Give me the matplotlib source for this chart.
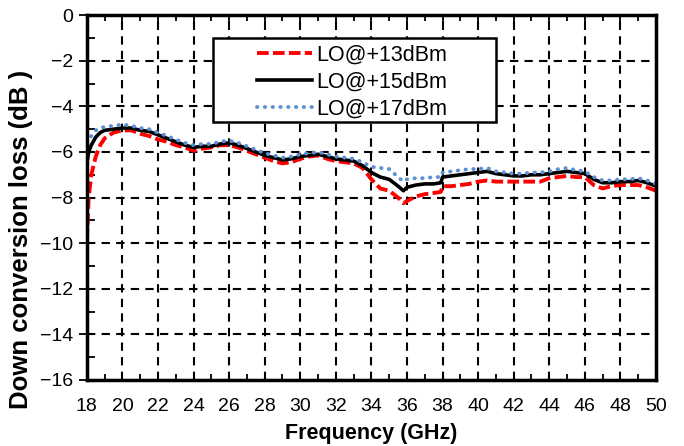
import numpy as np
import matplotlib
matplotlib.use("Agg")
import matplotlib.pyplot as plt
from matplotlib.ticker import MultipleLocator
from matplotlib.patches import Rectangle

# -------------------------------------------
# data (GHz, dB)
# -------------------------------------------
freq = [18.0, 18.1, 18.25, 18.5, 18.75, 19.0, 19.5, 20.0, 20.5, 21.0,
        21.5, 22.0, 22.5, 23.0, 23.5, 24.0, 24.5, 25.0, 25.5, 26.0,
        26.5, 27.0, 27.5, 28.0, 28.5, 29.0, 29.5, 30.0, 30.5, 31.0,
        31.5, 32.0, 32.5, 33.0, 33.5, 34.0, 34.5, 35.0, 35.5, 35.8,
        36.0, 36.5, 37.0, 37.5, 37.9, 38.0, 38.5, 39.0, 39.5, 40.0,
        40.5, 41.0, 41.5, 42.0, 42.5, 43.0, 43.5, 44.0, 44.5, 45.0,
        45.5, 46.0, 46.5, 47.0, 47.5, 48.0, 48.5, 49.0, 49.5, 50.0]

loss_13dbm = [-9.9, -8.0, -7.0, -6.2, -5.7, -5.4, -5.15, -5.05, -5.05, -5.2,
              -5.3, -5.45, -5.55, -5.7, -5.8, -5.95, -5.85, -5.8, -5.7, -5.7,
              -5.8, -5.95, -6.1, -6.25, -6.4, -6.5, -6.45, -6.3, -6.2, -6.15,
              -6.3, -6.4, -6.45, -6.5, -6.7, -7.2, -7.6, -7.7, -8.0, -8.25,
              -8.15, -7.95, -7.85, -7.8, -7.75, -7.5, -7.5, -7.45, -7.4, -7.3,
              -7.25, -7.3, -7.3, -7.3, -7.3, -7.3, -7.3, -7.15, -7.1, -7.05,
              -7.1, -7.1, -7.45, -7.6, -7.5, -7.45, -7.45, -7.45, -7.55, -7.7]

loss_15dbm = [-6.5, -6.0, -5.7, -5.35, -5.15, -5.05, -5.0, -4.95, -4.95, -5.05,
              -5.1, -5.25, -5.4, -5.55, -5.7, -5.8, -5.75, -5.75, -5.65, -5.6,
              -5.7, -5.85, -6.0, -6.15, -6.25, -6.35, -6.3, -6.2, -6.15, -6.1,
              -6.2, -6.3, -6.35, -6.4, -6.6, -6.9, -7.1, -7.2, -7.5, -7.7,
              -7.55, -7.45, -7.4, -7.4, -7.35, -7.1, -7.05, -7.0, -6.95, -6.9,
              -6.85, -6.95, -7.0, -7.05, -7.05, -7.0, -7.0, -6.95, -6.9, -6.85,
              -6.9, -6.95, -7.2, -7.35, -7.35, -7.3, -7.3, -7.25, -7.35, -7.5]

loss_17dbm = [-5.6, -5.45, -5.3, -5.05, -4.95, -4.9, -4.85, -4.8, -4.85, -4.95,
              -5.0, -5.15, -5.3, -5.45, -5.6, -5.7, -5.65, -5.65, -5.55, -5.5,
              -5.6, -5.75, -5.9, -6.05, -6.15, -6.25, -6.2, -6.1, -6.05, -6.0,
              -6.1, -6.2, -6.25, -6.3, -6.45, -6.65, -6.7, -6.75, -7.1, -7.3,
              -7.2, -7.15, -7.15, -7.1, -7.1, -6.9, -6.85, -6.8, -6.75, -6.75,
              -6.7, -6.85, -6.9, -6.95, -6.95, -6.9, -6.9, -6.85, -6.75, -6.7,
              -6.8, -6.85, -7.1, -7.25, -7.25, -7.2, -7.2, -7.15, -7.25, -7.4]

labels = ["LO@+13dBm", "LO@+15dBm", "LO@+17dBm"]

plt.rcParams["font.family"] = ["Liberation Sans", "DejaVu Sans"]

fig = plt.figure(figsize=(6.84, 4.46), dpi=100)
ax = fig.add_axes([0.127, 0.148, 0.832, 0.818])

ax.plot(freq, loss_13dbm, color="#ff0000", lw=2.8, ls=(0, (3, 1.1)), label=labels[0])
ax.plot(freq, loss_15dbm, color="black", lw=2.6, label=labels[1])
ax.plot(freq, loss_17dbm, color="#5b8fd6", lw=2.8, ls=(0, (0.1, 1.9)),
        dash_capstyle="round", label=labels[2])

ax.set_xlim(18, 50)
ax.set_ylim(-16, 0)
ax.xaxis.set_major_locator(MultipleLocator(2))
ax.xaxis.set_minor_locator(MultipleLocator(1))
ax.yaxis.set_major_locator(MultipleLocator(2))
ax.yaxis.set_minor_locator(MultipleLocator(1))

ax.grid(True, which="major", color="black", ls=(0, (4, 3)), lw=1.5)
ax.tick_params(axis="x", which="both", direction="in", top=True, labelsize=14, pad=13)
ax.tick_params(axis="x", which="major", length=6, width=1.3)
ax.tick_params(axis="x", which="minor", length=4, width=1.3)
ax.tick_params(axis="y", which="major", direction="out", length=6, width=1.3,
               labelsize=14, pad=4)
ax.tick_params(axis="y", which="minor", direction="in", length=6, width=1.3)

for s in ax.spines.values():
    s.set_linewidth(2.5)

ax.set_xlabel("Frequency (GHz)", fontsize=15.5, fontweight="bold", labelpad=6)
ax.set_ylabel("Down conversion loss (dB )", fontsize=18.5, fontweight="bold")
ax.yaxis.set_label_coords(-0.095, 0.385)

# legend: white box drawn by hand, text/handles placed inside
box = Rectangle((0.2214, 0.7068), 0.4974, 0.2302, transform=ax.transAxes,
                facecolor="white", edgecolor="black", lw=1.8, zorder=3)
ax.add_patch(box)
leg = ax.legend(loc="upper left", bbox_to_anchor=(0.299, 0.919), fontsize=15.5,
                frameon=False, handlelength=2.56, borderpad=0, labelspacing=0.27,
                handletextpad=0.18, borderaxespad=0)
leg.set_zorder(5)

fig.savefig("out.png", dpi=100)
